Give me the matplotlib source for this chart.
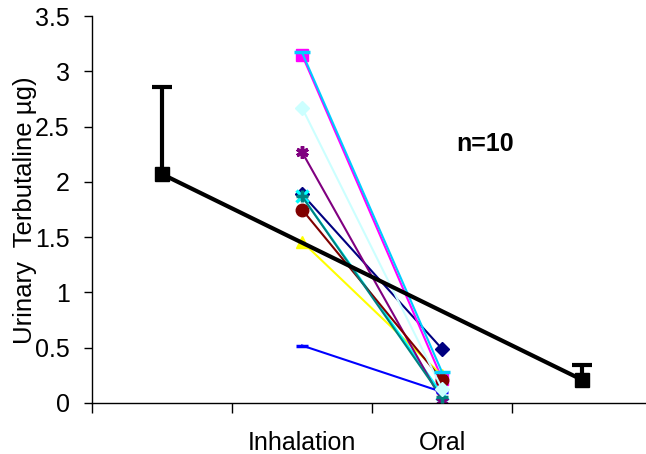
import matplotlib
matplotlib.use('Agg')
import matplotlib.pyplot as plt

plt.rcParams['font.family'] = ['Liberation Sans', 'DejaVu Sans']

# category slots on the x axis (first and last hold the group means)
groups = ['', 'Inhalation', 'Oral', '']
inhal_pos = 2
oral_pos = 3

# individual subjects (inhalation -> oral)
inhalation = [1.89, 3.15, 1.46, 1.87, 2.27, 1.75, 1.87, 0.52, 2.67, 3.17]
oral = [0.49, 0.22, 0.25, 0.08, 0.02, 0.21, 0.05, 0.10, 0.13, 0.28]

# group means with upper error bars
mean_pos = [1, 4]
mean_vals = [2.07, 0.21]
mean_err = [0.79, 0.13]

colors = ['#000080', '#FF00FF', '#FFFF00', '#00FFFF', '#800080',
          '#800000', '#008080', '#0000FF', '#CCFFFF', '#00CCFF']
markers = ['D', 's', '^', 'x', (6, 2, 0), 'o', '+', '_', 'D', '_']
msizes = [7, 8, 9, 8, 9, 9, 9, 9, 7, 11]

fig = plt.figure(figsize=(6.46, 4.54), dpi=100)
ax = fig.add_axes([92 / 646, 1 - 403 / 454, 560 / 646, 387 / 454])

for i in range(len(inhalation)):
    thin = markers[i] in ('x', '+', '_') or isinstance(markers[i], tuple)
    ax.plot([inhal_pos, oral_pos], [inhalation[i], oral[i]], color=colors[i],
            lw=1.5, marker=markers[i], markersize=msizes[i],
            markerfacecolor=colors[i], markeredgecolor=colors[i],
            markeredgewidth=2.5 if thin else 1,
            zorder=2 + i * 0.1)

line, caps, bars = ax.errorbar(mean_pos, mean_vals, yerr=[[0, 0], mean_err],
                               color='black', lw=3, marker='s', markersize=10,
                               capsize=7, capthick=3, elinewidth=3, zorder=5)
caps[0].set_visible(False)  # only the upper cap is drawn

ax.text(3.31, 2.34, 'n=10', fontsize=18, fontweight='bold', ha='center', va='center')

ax.set_xlim(0.5, 4.5)
ax.set_ylim(0, 3.5)
ax.set_yticks([0, 0.5, 1, 1.5, 2, 2.5, 3, 3.5])
ax.set_yticklabels(['0', '0.5', '1', '1.5', '2', '2.5', '3', '3.5'])
ax.set_xticks([0.5, 1.5, 2.5, 3.5])
ax.set_xticklabels([])
ax.set_xticks(mean_pos[:1] + [inhal_pos, oral_pos] + mean_pos[1:], minor=True)
ax.set_xticklabels(groups, minor=True)
ax.tick_params(axis='x', which='minor', length=0, pad=20, labelsize=18)
ax.tick_params(axis='x', which='major', direction='out', length=7, width=1)
ax.tick_params(axis='y', direction='out', length=6, width=1, pad=10, labelsize=18)

for side in ['top', 'right']:
    ax.spines[side].set_visible(False)
ax.spines['left'].set_linewidth(1)
ax.spines['bottom'].set_linewidth(1)

fig.text(25 / 646, 1 - 210 / 454, 'Urinary  Terbutaline \u00b5g)', rotation=90,
         ha='center', va='center', fontsize=18.5)

fig.savefig('out.png', dpi=100)
